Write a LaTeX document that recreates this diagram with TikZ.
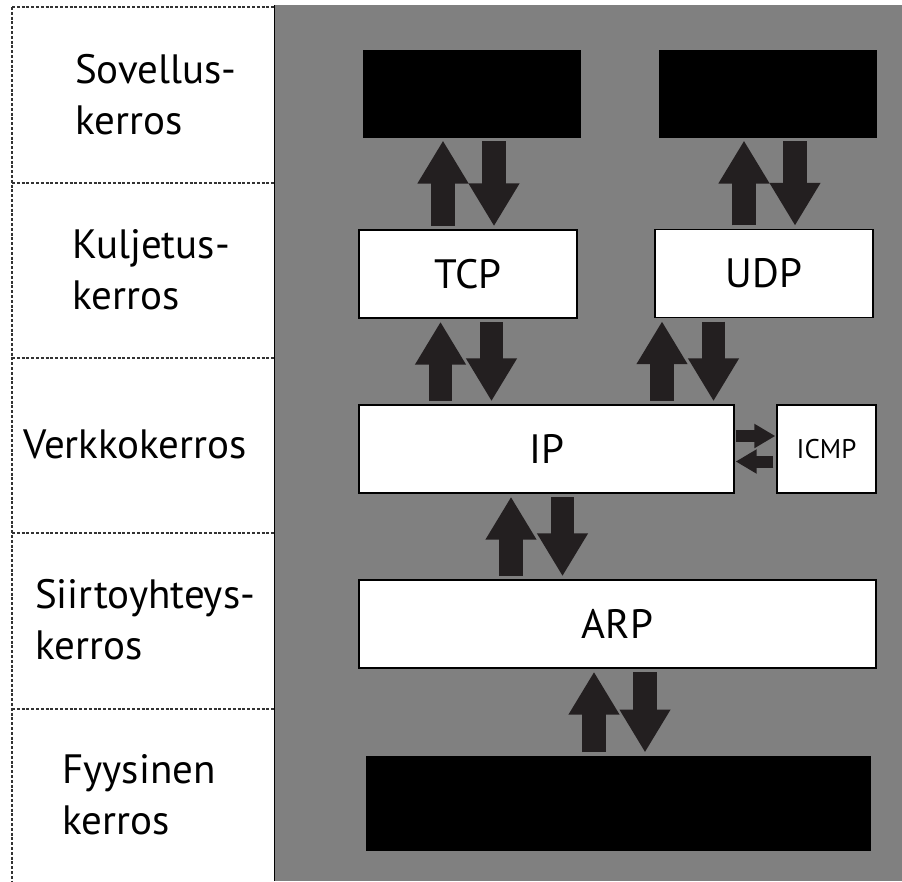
\documentclass[tikz,border=0pt]{standalone}
\usepackage{fontspec}
\setmainfont{PT Sans}
\usetikzlibrary{arrows.meta}
\definecolor{bggray}{HTML}{808080}
\definecolor{arr}{HTML}{231F20}
\definecolor{dotc}{HTML}{333333}
\tikzset{
  dotline/.style={draw=dotc, line width=1.5pt, dash pattern=on 3pt off 1.8pt},
  blackbox/.style={rectangle, fill=black, draw=black, line width=1pt, inner sep=0pt},
  whitebox/.style={rectangle, fill=white, draw=black, line width=1.4pt, inner sep=0pt,
    font=\fontsize{41}{49}\selectfont},
  layerlabel/.style={anchor=west, align=left, inner sep=0pt, font=\fontsize{41}{51}\selectfont},
  bigarrow/.style={draw=arr, line width=23.5pt,
    -{Triangle[width=48pt,length=43pt]}, shorten >=3pt, shorten <=3.5pt},
  smallarrow/.style={draw=arr, line width=12pt,
    -{Triangle[width=23pt,length=21pt]}, shorten >=1pt, shorten <=1pt}
}
\begin{document}
\begin{tikzpicture}[x=1pt,y=-1pt]
\useasboundingbox (0,0) rectangle (902,881);
\fill[white] (0,0) rectangle (902,881);
% gray area
\fill[bggray] (274.5,5) rectangle (902,881);
\draw[black, line width=1.5pt] (274.5,5) -- (274.5,881);
% dotted grid
\draw[dotline] (12,7) -- (12,881);
\foreach \yy in {7,183,358,533,709} {\draw[dotline] (12,\yy) -- (273.5,\yy);}
% layer labels
\node[layerlabel] (l1) at (75,94.5) {Sovellus-\\kerros};
\node[layerlabel] (l2) at (72,269.5) {Kuljetus-\\kerros};
\node[layerlabel] (l3) at (23,444.5) {Verkkokerros};
\node[layerlabel] (l4) at (35,619.5) {Siirtoyhteys-\\kerros};
\node[layerlabel] (l5) at (62,795) {Fyysinen\\kerros};
% boxes
\node[blackbox, minimum width=217pt, minimum height=87pt] (app1) at (471.5,93.5) {};
\node[blackbox, minimum width=217pt, minimum height=87pt] (app2) at (767.5,93.5) {};
\node[whitebox, minimum width=218pt, minimum height=88pt] (tcp) at (468,274) {TCP};
\node[whitebox, minimum width=218pt, minimum height=88pt] (udp) at (764,273.5) {UDP};
\node[whitebox, minimum width=375pt, minimum height=88pt] (ip) at (546.5,449) {IP};
\node[whitebox, minimum width=99pt, minimum height=88pt, font=\fontsize{27}{32}\selectfont] (icmp) at (826.5,449) {ICMP};
\node[whitebox, minimum width=517pt, minimum height=88pt] (arp) at (617.5,624) {ARP};
\node[blackbox, minimum width=504pt, minimum height=94pt] (phys) at (618,803) {};
% arrows
\draw[bigarrow] (443,0 |- tcp.north) -- (443,0 |- app1.south);
\draw[bigarrow] (494,0 |- app1.south) -- (494,0 |- tcp.north);
\draw[bigarrow] (744,0 |- udp.north) -- (744,0 |- app2.south);
\draw[bigarrow] (795,0 |- app2.south) -- (795,0 |- udp.north);
\draw[bigarrow] (440.5,0 |- ip.north) -- (440.5,0 |- tcp.south);
\draw[bigarrow] (491.5,0 |- tcp.south) -- (491.5,0 |- ip.north);
\draw[bigarrow] (662,0 |- ip.north) -- (662,0 |- udp.south);
\draw[bigarrow] (713.5,0 |- udp.south) -- (713.5,0 |- ip.north);
\draw[bigarrow] (511,0 |- arp.north) -- (511,0 |- ip.south);
\draw[bigarrow] (562.5,0 |- ip.south) -- (562.5,0 |- arp.north);
\draw[bigarrow] (594,0 |- phys.north) -- (594,0 |- arp.south);
\draw[bigarrow] (645,0 |- arp.south) -- (645,0 |- phys.north);
\draw[smallarrow] (ip.east |- 0,436) -- (icmp.west |- 0,436);
\draw[smallarrow, shorten <=3pt] (icmp.west |- 0,461.5) -- (ip.east |- 0,461.5);
\end{tikzpicture}
\end{document}
